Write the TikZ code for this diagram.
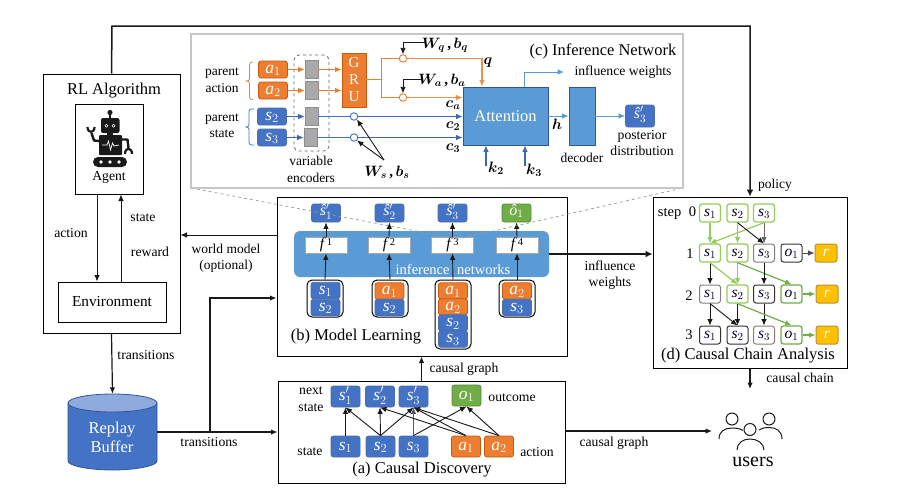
\documentclass[tikz,border=0pt]{standalone}
\usepackage{fix-cm}
\usepackage{amsmath,bm}
\usepackage{fontspec}
\setmainfont{Liberation Serif}
\DeclareSymbolFont{letters}{TU}{\rmdefault}{m}{it}
\DeclareSymbolFont{upn}{TU}{\rmdefault}{m}{n}
\SetSymbolFont{upn}{bold}{TU}{\rmdefault}{b}{n}
\SetSymbolFont{letters}{bold}{TU}{\rmdefault}{b}{it}
\DeclareMathSymbol{1}{\mathalpha}{upn}{`1}
\DeclareMathSymbol{2}{\mathalpha}{upn}{`2}
\DeclareMathSymbol{3}{\mathalpha}{upn}{`3}
\DeclareMathSymbol{4}{\mathalpha}{upn}{`4}
\usetikzlibrary{arrows.meta,calc}
\definecolor{cblue}{HTML}{4472C4}
\definecolor{cblueD}{HTML}{2F5597}
\definecolor{cband}{HTML}{5B9BD5}
\definecolor{corange}{HTML}{ED7D31}
\definecolor{corangeD}{HTML}{C55A11}
\definecolor{cgreen}{HTML}{70AD47}
\definecolor{cgreenL}{HTML}{92CC5A}
\definecolor{cgold}{HTML}{FFC000}
\definecolor{cgoldD}{HTML}{B8923A}
\definecolor{cgrey}{HTML}{A9A9A9}
\newcommand{\fs}[1]{\fontsize{#1}{#1}\selectfont}
\newcommand{\wb}[2]{$\bm{#1}$\,\textbf{,}\,$\bm{#2}$}
\newcommand{\hs}[1]{\textit{ŝ}$_{#1}'$}
\newcommand{\ho}[1]{\textit{ô}$_{#1}$}
\tikzset{
  lab/.style={font=\fs{13.7},align=center,inner sep=0pt,text=black,execute at begin node={\baselineskip=16.5pt}},
  title/.style={font=\fs{16.5},inner sep=0pt,text=black},
  box/.style={draw=black,line width=1pt,fill=white,inner sep=0pt},
  var/.style={rounded corners=2.5pt,line width=.8pt,inner sep=0pt,text=white,font=\fs{17.5},text height=10.5pt,text depth=3.5pt},
  hv/.style={font=\fs{16},text height=9.5pt,text depth=4.5pt},
  bv/.style={var,draw=cblueD!85,fill=cblue,minimum width=29,minimum height=#1},
  bv/.default=20,
  ov/.style={var,draw=corangeD,fill=corange,minimum width=29,minimum height=#1},
  ov/.default=20,
  gv/.style={var,draw=cgreen!80!black,fill=cgreen,minimum width=29,minimum height=#1},
  gv/.default=20,
  stackbox/.style={draw=black,line width=1pt,rounded corners=5pt,fill=white,inner sep=0pt},
  fbox/.style={draw=cgrey,line width=.8pt,fill=white,inner sep=0pt,minimum width=42,minimum height=16,font=\fs{15.5},text height=9.5pt,text depth=3.5pt},
  enc/.style={draw=black!45,line width=.6pt,fill=cgrey,inner sep=0pt,minimum width=13,minimum height=18},
  ring/.style={circle,fill=white,line width=.9pt,inner sep=0pt,minimum size=7.5},
  cell/.style={rounded corners=2.5pt,line width=1pt,fill=white,inner sep=0pt,minimum width=21,minimum height=18,font=\fs{15.5},text=black!85!blue,text height=9.5pt,text depth=3.5pt},
  cG/.style={cell,draw=cgreenL,line width=1.3pt},
  cD/.style={cell,draw=cgreen,line width=1.3pt},
  cK/.style={cell,draw=black!80},
  cY/.style={cell,draw=black!50},
  rw/.style={rounded corners=2.5pt,draw=cgoldD,line width=1pt,fill=cgold,inner sep=0pt,minimum width=22,minimum height=18,text=white,font=\fs{15.5}},
  arr/.style={-{Latex[length=6.5pt,width=5.5pt]},line width=.9pt,draw=black!90},
  arrT/.style={-{Latex[length=7pt,width=7pt]},line width=1.5pt,draw=black!90},
  arrB/.style={arr,draw=cblue!90!black},
  arrO/.style={arr,draw=corange},
  arrG/.style={arr,draw=cgreenL,line width=1.2pt},
  arrD/.style={arr,draw=cgreen,line width=1.2pt},
  weight/.style={inner sep=0pt,font=\fs{15},text=black},
}
\begin{document}
\begin{tikzpicture}[x=1pt,y=-1pt]
\useasboundingbox (0,0) rectangle (899,496);
\fill[white] (0,0) rectangle (899,496);

%% ---------- RL algorithm
\node[box,minimum width=137,minimum height=259] (rl) at (111.5,203.5) {};
\node[title] (rltitle) at (114,91) {RL Algorithm};
\node[box,minimum width=68,minimum height=90] (agent) at (109,149) {};
\node[box,minimum width=108,minimum height=40] (env) at (112,302) {};
\node[lab,font=\fs{15.3}] (envtext) at (112,302) {Environment};
\node[lab] (agenttext) at (109,177) {Agent};
% robot icon
\begin{scope}[black!90]
  \draw[line width=1.2pt] (110,113) -- (110,120);
  \fill (110,112.5) circle (2.6);
  \fill[rounded corners=2pt] (101,118) rectangle (119.5,133);
  \fill (107,133) rectangle (113,136);
  \fill[rounded corners=1pt] (99,135) rectangle (122,155);
  \draw[white,line width=.6pt] (106.5,125.7) circle (1.5) (113.5,125.7) circle (1.5);
  \draw[white,line width=.7pt] (102,145) -- (107,145) -- (108.5,141) -- (110.5,150) -- (112.5,143) -- (114,146) -- (119,145);
  \draw[line width=2.4pt,line join=round] (99,141) -- (94,140.5) -- (91.5,133);
  \draw[line width=2.2pt] (87.5,127) .. controls (87.5,133.5) and (94.5,133.5) .. (94.5,127);
  \draw[line width=2.4pt,line join=round] (122,139.5) -- (127.5,139.5) -- (128.5,148);
  \draw[line width=2.2pt] (125,154) .. controls (125,147) and (132,147) .. (132,154);
  \fill[rounded corners=5pt] (93,157) rectangle (127,167);
  \fill[white] (101,162) circle (1.9) (110,162) circle (1.9) (119,162) circle (1.9);
\end{scope}
\draw[arr] (agent.south -| 97,0) -- (env.north -| 97,0);
\draw[arr] (env.north -| 121,0) -- (agent.south -| 121,0);
\node[lab] (laction) at (71,233) {action};
\node[lab] (lstate) at (143,218) {state};
\node[lab] (lreward) at (150,252) {reward};

%% ---------- Model learning box
\node[box,minimum width=290,minimum height=159] (b) at (422,276.5) {};
\node[fill=cband,rounded corners=6pt,minimum width=255,minimum height=46,inner sep=0pt] (band) at (421.5,254) {};
\foreach \n/\x in {1/326,2/389,3/452.5,4/517}{
  \node[fbox] (f\n) at (\x,245) {$f$\,\raisebox{3pt}{\fs{10.5}\n}};
}
\node[bv=18,hv] (h1) at (326,213) {\hs{1}};
\node[bv=18,hv] (h2) at (389.5,213) {\hs{2}};
\node[bv=18,hv] (h3) at (452.5,213) {\hs{3}};
\node[gv=18,hv] (h4) at (516.5,213) {\ho{1}};
\node[inner sep=0pt,text=white,font=\fs{14.5}] (inflab) at (453,269.5) {inference\hspace{4pt} networks};
% stacks
\node[stackbox,minimum width=36,minimum height=37] (st1) at (325,298.5) {};
\node[stackbox,minimum width=36,minimum height=37] (st2) at (390,298.5) {};
\node[stackbox,minimum width=36,minimum height=69] (st3) at (453,314.5) {};
\node[stackbox,minimum width=36,minimum height=37] (st4) at (517,298.5) {};
\node[bv=16.5] (st1a) at (325.5,290.5) {$s_1$};
\node[bv=16.5] (st1b) at (325.5,307.5) {$s_2$};
\node[ov=16.5] (st2a) at (389.5,291) {$a_1$};
\node[bv=16.5] (st2b) at (389.5,307.5) {$s_2$};
\node[ov=16.5] (st3a) at (453,291) {$a_1$};
\node[ov=16.5] (st3b) at (453,307) {$a_2$};
\node[bv=16.5] (st3c) at (453,323) {$s_2$};
\node[bv=16.5] (st3d) at (453,339) {$s_3$};
\node[ov=16.5] (st4a) at (517,291) {$a_2$};
\node[bv=16.5] (st4b) at (517,307.5) {$s_3$};
\foreach \n in {1,2,3,4}{
  \draw[arr] (st\n.north) -- (f\n.south);
  \draw[arr] (f\n.north) -- (h\n.south);
}
\node[title] (btitle) at (356,337) {(b) Model Learning};

%% ---------- grey funnel + inference panel
\coordinate (fa) at (191,188);
\coordinate (fb) at (683,188);
\coordinate (fc) at (458,239);
\draw[dashed,draw=black!40,line width=.7pt] (fa) -- (fc) -- (fb);
\node[draw=black!22,line width=1.4pt,fill=white,minimum width=492,minimum height=154,inner sep=0pt] (panel) at (437,111) {};

\node[title] (ctitle) at (603,51) {(c) Inference Network};
\node[lab,font=\fs{13.5}] (pa) at (222,80.5) {parent\\action};
\node[lab,font=\fs{13.5}] (ps) at (222,126) {parent\\state};
\draw[corange,line width=.8pt,rounded corners=2.5pt] (253,62) -- (249.5,62) -- (249.5,81) -- (246,81) -- (249.5,81) -- (249.5,99.5) -- (253,99.5);
\draw[cblue,line width=.8pt,rounded corners=2.5pt] (254,109) -- (249,109) -- (249,127) -- (244,127) -- (249,127) -- (249,145) -- (254,145);
\node[ov=17] (ia1) at (273,69.5) {$a_1$};
\node[ov=17] (ia2) at (273,90.5) {$a_2$};
\node[bv=17] (is2) at (272,116.5) {$s_2$};
\node[bv=17] (is3) at (272,137.5) {$s_3$};
\node[draw=black!60,dashed,line width=.8pt,rounded corners=5pt,minimum width=35,minimum height=96,inner sep=0pt] (encbox) at (311.5,103) {};
\node[enc] (e1) at (311.5,69.5) {};
\node[enc] (e2) at (311.5,90.5) {};
\node[enc] (e3) at (311.5,116.5) {};
\node[enc] (e4) at (310.5,137.5) {};
\node[lab,font=\fs{13.5}] (vetext) at (311,169.5) {variable\\encoders};
\node[draw=corangeD,fill=corange,line width=.7pt,minimum width=24,minimum height=54,inner sep=0pt,text=white,font=\fs{15},align=center,execute at begin node={\baselineskip=17pt}] (gru) at (354,80) {G\\R\\U};
\draw[arrO] (ia1) -- (e1);
\draw[arrO] (ia2) -- (e2);
\draw[arrB] (is2) -- (e3);
\draw[arrB] (is3) -- (e4);
\draw[arrO] (e1.east) -- (e1.east -| gru.west);
\draw[arrO] (e2.east) -- (e2.east -| gru.west);
% attention etc
\node[draw=cblueD,fill=cband,line width=.7pt,minimum width=85,minimum height=58,inner sep=0pt,text=white,font=\fs{16.5}] (att) at (505.5,116) {Attention};
\node[draw=cblueD,fill=cband,line width=.7pt,minimum width=26,minimum height=58,inner sep=0pt] (dec) at (582,116) {};
\node[bv=22,hv] (post) at (640,116) {\hs{3}};
\node[ring,draw=corange] (rq) at (403,58.5) {};
\node[ring,draw=corange] (ra) at (403,97.5) {};
\node[ring,draw=cblue] (r2) at (354,116.5) {};
\node[ring,draw=cblue] (r3) at (354,137.5) {};
\coordinate (gj) at (381.5,79);
\draw[corange,line width=.8pt] (gru.east |- gj) -- (gj);
\draw[corange,line width=.8pt] (rq.west) -| (gj) |- (ra.west);
\draw[arrO,line width=1.1pt,draw=corange!85] (rq.east) -| (att.north -| 482,0);
\draw[arrO,line width=1.1pt,draw=corange!85] (ra.east) -- (ra.east -| att.west);
\draw[cblue,line width=.8pt] (e3.east) -- (r2.west);
\draw[cblue,line width=.8pt] (e4.east) -- (r3.west);
\draw[arrB,line width=1.1pt] (r2.east) -- (r2.east -| att.west);
\draw[arrB,line width=1.1pt] (r3.east) -- (r3.east -| att.west);
\draw[arr,draw=cband,line width=1pt] (att.east) -- (dec.west);
\draw[arr,draw=cband,line width=1pt] (dec.east) -- (post.west);
\coordinate (iwt) at (564,72);
\draw[arr,draw=cband,line width=1pt] (att.north -| 524,0) |- (iwt);
\coordinate (k2b) at (486,166);
\coordinate (k3b) at (525,166);
\draw[arrB,line width=1.5pt] (k2b) -- (k2b |- att.south);
\draw[arrB,line width=1.5pt] (k3b) -- (k3b |- att.south);
\node[lab] (liw) at (623,72) {influence weights};
\node[lab] (lpost) at (642,143) {posterior\\distribution};
\node[lab,font=\fs{13.5}] (ldec) at (582,158) {decoder};
\node[weight] (lwq) at (445,45) {\wb{W_q}{b_q}};
\node[weight] (lwa) at (442,80) {\wb{W_a}{b_a}};
\node[weight] (lws) at (387,172) {\wb{W_s}{b_s}};
\node[weight] (lq) at (488,63) {$\bm{q}$};
\node[weight] (lca) at (453,105) {$\bm{c_a}$};
\node[weight] (lc2) at (453,126) {$\bm{c_2}$};
\node[weight] (lc3) at (453,148) {$\bm{c_3}$};
\node[weight] (lh) at (557,124) {$\bm{h}$};
\node[weight] (lk2) at (496,168) {$\bm{k_2}$};
\node[weight] (lk3) at (534,170) {$\bm{k_3}$};
\coordinate (wqs) at (425,42);
\coordinate (was) at (421,79);
\coordinate (wsj) at (384,160);
\draw[arr] (wqs) -| (rq.north);
\draw[arr] (was) -| (ra.north);
\draw[arr] (wsj) -- (r2.south east);
\draw[arr] (wsj) -- (r3.south east);

%% ---------- Causal discovery
\node[box,minimum width=287,minimum height=102] (a) at (421.5,432) {};
\node[bv=21] (ns1) at (345.5,396.5) {$s_1'$};
\node[bv=21] (ns2) at (380,396.5) {$s_2'$};
\node[bv=21] (ns3) at (413.5,396.5) {$s_3'$};
\node[gv=21] (no) at (466.5,395.5) {$o_1$};
\node[bv=21] (cs1) at (345.5,446.5) {$s_1$};
\node[bv=21] (cs2) at (380.5,446.5) {$s_2$};
\node[bv=21] (cs3) at (413.5,446.5) {$s_3$};
\node[ov=21] (ca1) at (466,446.5) {$a_1$};
\node[ov=21] (ca2) at (499,446.5) {$a_2$};
\draw[arr] (cs1.north) -- (ns1.south);
\draw[arr] (cs2.north) -- (ns1.south);
\draw[arr] (cs2.north) -- (ns2.south);
\draw[arr] (cs2.north) -- (ns3.south);
\draw[arr,draw=black!65] (cs3.north) -- (ns3.south);
\draw[arr] (cs3.north) -- (no.south);
\draw[arr] (ca1.north) -- (ns2.south);
\draw[arr] (ca1.north) -- (ns3.south);
\draw[arr] (ca2.north) -- (ns3.south);
\draw[arr] (ca2.north) -- (no.south);
\node[lab] (lnext) at (311,399) {next\\state};
\node[lab] (lst) at (310,452) {state};
\node[lab] (lout) at (512,398) {outcome};
\node[lab] (lact) at (537,452) {action};
\node[title] (atitle) at (422,470) {(a) Causal Discovery};

%% ---------- Causal chain analysis
\node[box,minimum width=194,minimum height=171] (d) at (750,282.5) {};
\node[lab,font=\fs{14.5}] (lstep) at (677,213) {step\hspace{4pt} 0};
\node[lab,font=\fs{14.5}] (l1) at (690,254) {1};
\node[lab,font=\fs{14.5}] (l2) at (689,296) {2};
\node[lab,font=\fs{14.5}] (l3) at (689,335) {3};
% row 0
\node[cG] (a1) at (710,213) {$s_1$};
\node[cG] (a2) at (737.5,213) {$s_2$};
\node[cG] (a3) at (764,213) {$s_3$};
% row 1
\node[cG] (b1) at (710,253) {$s_1$};
\node[cG] (b2) at (737.5,253) {$s_2$};
\node[cY] (b3) at (764,253) {$s_3$};
\node[cK] (b4) at (791.5,253) {$o_1$};
\node[rw] (b5) at (826,253) {$r$};
% row 2
\node[cY] (c1) at (710,294) {$s_1$};
\node[cG] (c2) at (737.5,294) {$s_2$};
\node[cK] (c3) at (764,294) {$s_3$};
\node[cD] (c4) at (791.5,294) {$o_1$};
\node[rw] (c5) at (827,294) {$r$};
% row 3
\node[cK] (e1x) at (710,335) {$s_1$};
\node[cK] (e2x) at (737.5,335) {$s_2$};
\node[cY] (e3x) at (764,335) {$s_3$};
\node[cD] (e4x) at (791.5,335) {$o_1$};
\node[rw] (e5x) at (827,335) {$r$};
\draw[arrG] (a1.south) -- (b1.north);
\draw[arrG] (a2.south) -- (b2.north);
\draw[arrG] (a3.south) -- (b1.north);
\draw[arr] (a2.south) -- (b3.north);
\draw[arr,draw=black!60] (a3.south) -- (b3.north);
\draw[arr] (b1.south) -- (c1.north);
\draw[arrG] (b1.south) -- (c2.north);
\draw[arrG] (b2.south) -- (c2.north);
\draw[arrG,draw=cgreen] (b2.south) -- (c4.north);
\draw[arr] (b3.south) -- (c3.north);
\draw[arr] (c1.south) -- (e1x.north);
\draw[arr] (c1.south) -- (e2x.north);
\draw[arr] (c2.south) -- (e2x.north);
\draw[arr] (c3.south) -- (e3x.north);
\draw[arrG,draw=cgreen] (c2.south) -- (e4x.north);
\draw[arr,draw=black!70] (b4) -- (b5);
\draw[arrD] (c4) -- (c5);
\draw[arrD] (e4x) -- (e5x);
\node[title] (dtitle) at (748,356) {(d) Causal Chain Analysis};

%% ---------- Replay buffer
\node[minimum width=89,minimum height=76,inner sep=0pt] (rb) at (112.5,432) {};
\draw[cblueD,line width=.8pt,fill=cblue] (68,403) -- (68,461) .. controls (68,466) and (90,470) .. (112.5,470) .. controls (135,470) and (157,466) .. (157,461) -- (157,403) -- cycle;
\draw[cblueD,line width=.8pt,fill=cblue!60!white] (112.5,403) ellipse (44.5 and 9);
\node[inner sep=0pt,text=white,font=\fs{16.5},align=center,execute at begin node={\baselineskip=19pt}] (rbt) at (112,437) {Replay\\Buffer};

%% ---------- Users
\coordinate (uc) at (750,431);
\begin{scope}[draw=black!90,line width=1pt]
  \draw (732,419) circle (6);
  \draw (769,419) circle (6);
  \draw (750,429.5) circle (6);
  \draw (719,439) .. controls (719,431) and (725,428) .. (732,428) .. controls (736,428) and (740,428.5) .. (743,430.5);
  \draw (782,439) .. controls (782,431) and (776,427.5) .. (769,427.5) .. controls (765,427.5) and (762,428) .. (759,430);
  \draw (737,450) .. controls (737,443) and (743,439) .. (750,439) .. controls (757,439) and (764,443) .. (764,450);
\end{scope}
\node[inner sep=0pt,font=\fs{20},text=black] (users) at (753,462) {users};

%% ---------- Main connectors
\coordinate (ptl) at (112,26);
\coordinate (ptr) at (750,26);
\draw[arrT] (rl.north) -- (ptl) -- (ptr) -- (d.north);
\node[lab,font=\fs{13.5}] (lpol) at (775,185) {policy};
\draw[arr,line width=1.2pt] (rl.south) -- (rb.north);
\node[lab] (ltr1) at (146,355) {transitions};
\draw[arr,line width=1.1pt] (rb.east) -- (a.west |- rb.east);
\coordinate (tj) at (210,432);
\coordinate (tk) at (210,298);
\draw[arr,line width=1.4pt] (tj) -- (tk) -- (tk -| b.west);
\node[lab] (ltr2) at (209,442) {transitions};
\coordinate (wm) at (200,235);
\draw[arr] (b.west |- wm) -- (rl.east |- wm);
\node[lab,font=\fs{13.5}] (lwm) at (226,258) {world model\\(optional)};
\draw[arrT] (band.east) -- (d.west |- band.east);
\node[lab] (liw2) at (610,275) {influence\\weights};
\draw[arr,line width=1.1pt] (a.north) -- (b.south -| a.north);
\node[lab] (lcg1) at (464,369) {causal graph};
\draw[arr,line width=1.1pt] (a.east |- uc) -- (712,431);
\node[lab] (lcg2) at (614,443) {causal graph};
\coordinate (cce) at (750,389);
\draw[arr,line width=1.1pt] (d.south) -- (cce);
\node[lab] (lcc) at (800,378) {causal chain};
\end{tikzpicture}
\end{document}
